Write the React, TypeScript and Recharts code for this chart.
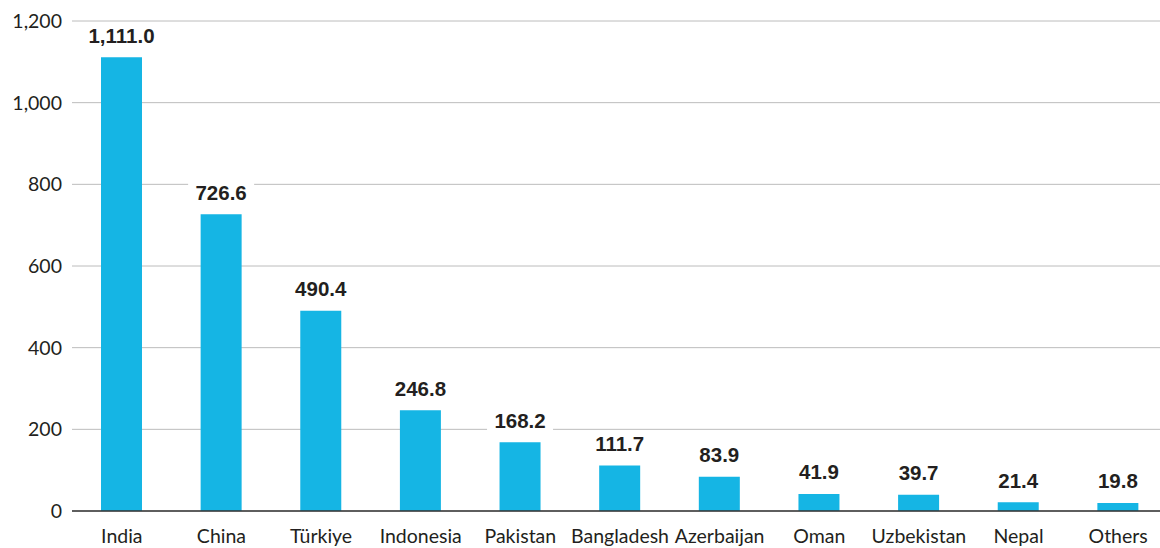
import React from "react";
import { BarChart, Bar, XAxis, YAxis, CartesianGrid, LabelList } from "recharts";

const categories = ["India", "China", "Türkiye", "Indonesia", "Pakistan", "Bangladesh", "Azerbaijan", "Oman", "Uzbekistan", "Nepal", "Others"];
const values = [1111.0, 726.6, 490.4, 246.8, 168.2, 111.7, 83.9, 41.9, 39.7, 21.4, 19.8];
const yTicks = [0, 200, 400, 600, 800, 1000, 1200];

const data = categories.map((name, i) => ({ name, value: values[i] }));

const fmtVal = (v: number) =>
  v.toLocaleString("en-US", { minimumFractionDigits: 1, maximumFractionDigits: 1 });

const ValueLabel = (props: any) => {
  const { x, y, width, value } = props;
  const cx = x + width / 2;
  const text = fmtVal(value);
  const tw = text.length * 10.4 + 14;
  const cy = y - 22;
  return (
    <g>
      <rect x={cx - tw / 2} y={cy - 12} width={tw} height={24} fill="#ffffff" />
      <text
        x={cx}
        y={cy}
        textAnchor="middle"
        dominantBaseline="central"
        fontFamily="'Liberation Sans', Arial, sans-serif"
        fontWeight={700}
        fontSize={20.5}
        fill="#231f20"
      >
        {text}
      </text>
    </g>
  );
};

export default function App() {
  return (
    <div style={{ position: "absolute", left: 0, top: 0, width: 1160, height: 548, overflow: "hidden", background: "#fff" }}>
      <BarChart
        width={1170}
        height={548}
        data={data}
        margin={{ top: 21, right: 2, bottom: 0, left: 0 }}
        barSize={41}
      >
        <CartesianGrid vertical={false} stroke="#bcbcbc" strokeWidth={1} />
        <XAxis
          dataKey="name"
          height={37}
          tickLine={false}
          axisLine={{ stroke: "#333333", strokeWidth: 1.5 }}
          tickMargin={12}
          interval={0}
          tick={{ fontFamily: "Lato, sans-serif", fontSize: 19.5, fill: "#231f20" }}
        />
        <YAxis
          width={72}
          domain={[0, 1200]}
          ticks={yTicks}
          tickLine={false}
          axisLine={false}
          tickMargin={4}
          tickFormatter={(v: number) => v.toLocaleString("en-US")}
          tick={{ fontFamily: "Lato, sans-serif", fontSize: 19.5, fill: "#231f20" }}
        />
        <Bar dataKey="value" fill="#15b5e4" isAnimationActive={false}>
          <LabelList dataKey="value" content={<ValueLabel />} />
        </Bar>
      </BarChart>
    </div>
  );
}
